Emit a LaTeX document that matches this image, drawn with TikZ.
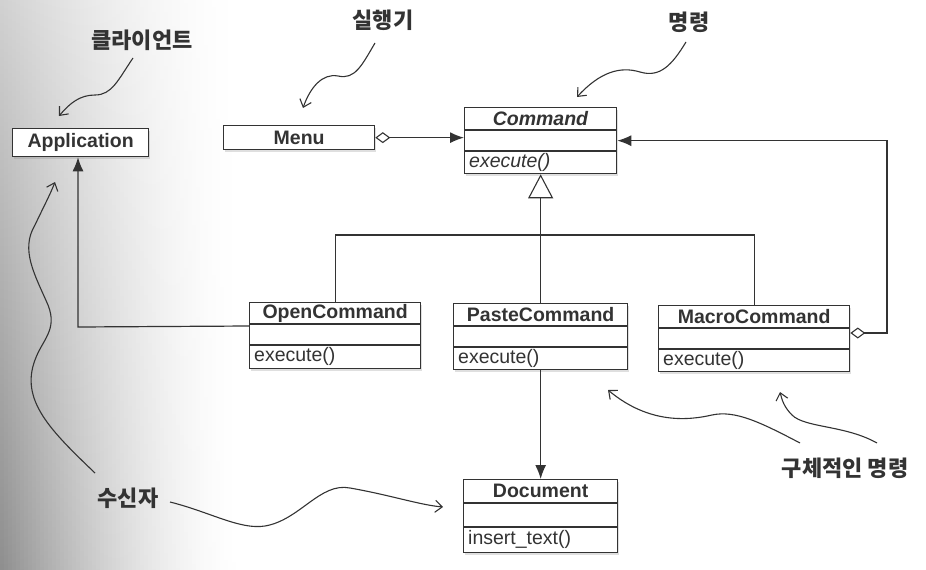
\documentclass[tikz,border=0pt]{standalone}
\usepackage{fontspec}
\setmainfont{Liberation Sans}
\newfontfamily\kr{Noto Sans CJK KR}
\usetikzlibrary{arrows.meta,calc,shadows}
\definecolor{ink}{HTML}{333333}
\tikzset{
  clsbox/.style={draw=ink, line width=1.3pt, fill=white, inner sep=0pt,
    drop shadow={shadow xshift=1.5pt, shadow yshift=-2pt, opacity=.25}},
  clsline/.style={draw=ink, line width=1.1pt},
  clstitle/.style={inner sep=0pt, text=ink, font=\fontsize{19.5}{21}\selectfont\bfseries},
  clsmeth/.style={inner sep=0pt, text=ink, font=\fontsize{19.5}{21}\selectfont},
  conn/.style={draw=ink, line width=1.2pt},
  note/.style={inner sep=0pt, text=ink, font=\kr\bfseries\fontsize{22}{24}\selectfont},
  wavy/.style={draw=ink, line width=1.1pt, -{Straight Barb[length=7pt,width=12pt,line width=1.1pt]}},
  agg/.style={{Diamond[open,length=15pt,width=11pt,line width=1.1pt]}-{Latex[length=14pt,width=11pt]}},
}
\newcommand\umlcls[9]{%
  \node[clsbox, minimum width=#4pt, minimum height=#5pt, anchor=north west] (#1) at (#2,#3) {};
  \draw[clsline] ($(#1.north west)+(0,#6)$) -- ($(#1.north east)+(0,#6)$);
  \draw[clsline] ($(#1.north west)+(0,#7)$) -- ($(#1.north east)+(0,#7)$);
  \node[clstitle] (#1-t) at ($(#1.north)+(0,{#6/2})$) {#8};
  \node[clsmeth, anchor=west] (#1-m) at ($(#1.north west)+(5,{(#7+#5)/2})$) {#9};
}
\newcommand\umlsimple[6]{%
  \node[clsbox, minimum width=#4pt, minimum height=#5pt, anchor=north west] (#1) at (#2,#3) {};
  \node[clstitle] (#1-t) at (#1.center) {#6};
}
\begin{document}
\begin{tikzpicture}[x=1pt,y=-1pt]
\useasboundingbox (0,0) rectangle (926,570);
% scanned-page shading at the left edge
\foreach \i in {0,...,59}{%
  \pgfmathsetmacro\f{(1-\i/60)^1.6}%
  \pgfmathsetmacro\ct{18*\f}%
  \pgfmathsetmacro\cb{44*\f}%
  \fill[top color=black!\ct, bottom color=black!\cb] ({4*\i},0) rectangle ({4*\i+4.3},570);
}

% classes
\umlsimple{app}{12}{128}{136}{28}{Application}
\umlsimple{menu}{223}{125}{151}{24}{Menu}
\umlcls{cmd}{464}{107}{152}{66}{23}{44}{\textit{Command}}{\textit{execute()}}
\umlcls{open}{249}{302}{171}{66}{22}{43}{OpenCommand}{execute()}
\umlcls{paste}{453}{303}{174}{66}{23}{44}{PasteCommand}{execute()}
\umlcls{macro}{658}{305}{191}{66}{23}{44}{MacroCommand}{execute()}
\umlcls{doc}{463}{479}{154}{73}{24}{48}{Document}{insert\_text()}

% connectors
\coordinate (bus) at (540,235);
\coordinate (appcorner) at (78,327);
\coordinate (macrocorner) at (887,333);
\draw[conn, agg] (menu.east) -- (menu.east -| cmd.west);
\draw[conn, -{Triangle[open,length=24pt,width=25pt,line width=1.1pt]}] (paste.north) -- (cmd.south);
\draw[conn] (open.north) -- (open.north |- bus) -- (macro.north |- bus) -- (macro.north);
\draw[conn, -{Latex[length=14pt,width=11pt]}] ($(open.north west)+(0,24)$) -- (appcorner) -- (app.south -| appcorner);
\draw[conn, agg] ($(macro.north east)+(0,28)$) -- (macrocorner) -- (macrocorner |- cmd.east) -- (cmd.east);
\draw[conn, -{Latex[length=14pt,width=11pt]}] (paste.south) -- (doc.north);

% annotations
\node[note] (client) at (142,40) {클라이언트};
\node[note] (invoker) at (383,20) {실행기};
\node[note] (command) at (689,22) {명령};
\node[note] (concrete) at (845,468) {구체적인 명령};
\node[note] (receiver) at (128,498) {수신자};

\draw[wavy] (133,58) .. controls (118,80) and (112,95) .. (95,95) .. controls (80,95) and (70,103) .. (59,116);
\draw[wavy] (375,43) .. controls (362,65) and (355,80) .. (338,76) .. controls (322,73) and (310,88) .. (303,108);
\draw[wavy] (686,42) .. controls (672,65) and (660,78) .. (640,72) .. controls (620,66) and (600,72) .. (577,97);
\draw[wavy] (800,443) .. controls (760,422) and (735,410) .. (712,415) .. controls (690,420) and (650,425) .. (608,390);
\draw[wavy] (877,443) .. controls (845,425) and (805,428) .. (792,415) .. controls (784,407) and (782,400) .. (780,392);
\draw[wavy] (170,502) .. controls (210,512) and (240,530) .. (265,526) .. controls (300,520) and (320,482) .. (350,488) .. controls (390,495) and (420,505) .. (443,507);
\draw[wavy] (95,473) .. controls (50,430) and (20,400) .. (35,360) .. controls (42,340) and (58,330) .. (48,305) .. controls (35,275) and (20,250) .. (35,225) .. controls (42,210) and (50,195) .. (55,182);
\end{tikzpicture}
\end{document}
